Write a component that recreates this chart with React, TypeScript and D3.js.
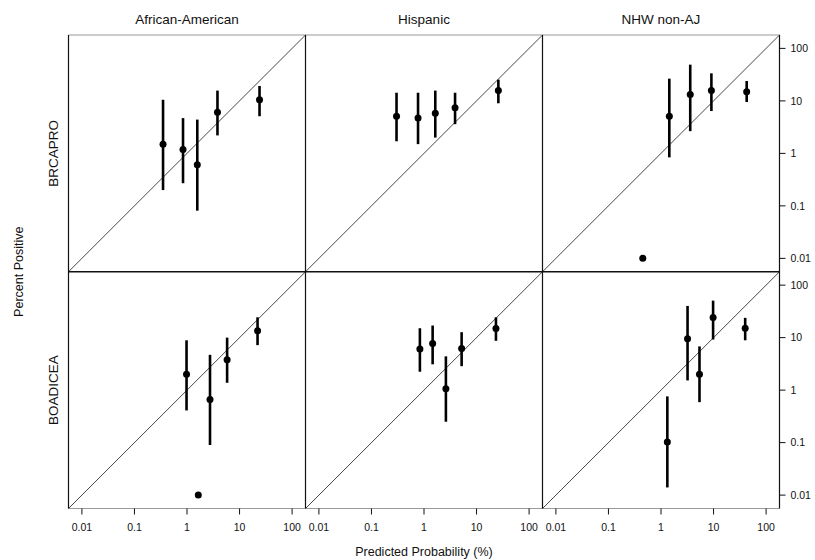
import React from "react";
import * as d3 from "d3";

const races = ["African-American", "Hispanic", "NHW non-AJ"];
const models = ["BRCAPRO", "BOADICEA"];
const tickValues = [0.01, 0.1, 1, 10, 100];
const tickLabels = ["0.01", "0.1", "1", "10", "100"];

// BRCAPRO row
const aaBrcaproPred = [0.35, 0.84, 1.57, 3.8, 24];
const aaBrcaproObs = [1.5, 1.19, 0.61, 6.1, 10.5];
const aaBrcaproLo = [0.2, 0.27, 0.081, 2.2, 5.1];
const aaBrcaproHi = [10.5, 4.7, 4.4, 15.7, 19.2];

const hispBrcaproPred = [0.3, 0.77, 1.64, 3.9, 26];
const hispBrcaproObs = [5.1, 4.7, 5.8, 7.4, 15.7];
const hispBrcaproLo = [1.7, 1.5, 2.0, 3.6, 9.0];
const hispBrcaproHi = [14.3, 14.3, 15.7, 14.3, 25.4];

const nhwBrcaproPred = [0.45, 1.44, 3.6, 9.1, 42.7];
const nhwBrcaproObs = [0.01, 5.1, 13.3, 15.7, 15];
const nhwBrcaproLo = [null, 0.84, 2.65, 6.4, 9.5];
const nhwBrcaproHi = [null, 26.5, 49, 33.5, 23.9];

// BOADICEA row
const aaBoadiceaPred = [0.98, 1.64, 2.74, 5.8, 22];
const aaBoadiceaObs = [2.0, 0.01, 0.66, 3.8, 13.5];
const aaBoadiceaLo = [0.41, null, 0.09, 1.38, 7.2];
const aaBoadiceaHi = [8.9, null, 4.7, 10, 24.4];

const hispBoadiceaPred = [0.835, 1.46, 2.61, 5.2, 23.4];
const hispBoadiceaObs = [6.1, 7.7, 1.06, 6.2, 14.9];
const hispBoadiceaLo = [2.24, 3.1, 0.25, 2.86, 8.7];
const hispBoadiceaHi = [15.1, 17, 4.4, 12.7, 24.4];

const nhwBoadiceaPred = [1.32, 3.2, 5.4, 9.8, 40];
const nhwBoadiceaObs = [0.103, 9.5, 2.0, 24.1, 15.1];
const nhwBoadiceaLo = [0.014, 1.53, 0.59, 9.2, 8.9];
const nhwBoadiceaHi = [0.76, 40.2, 6.8, 50.7, 23.8];

type Panel = { pred: number[]; obs: number[]; lo: (number | null)[]; hi: (number | null)[] };

const panels: Panel[][] = [
  [
    { pred: aaBrcaproPred, obs: aaBrcaproObs, lo: aaBrcaproLo, hi: aaBrcaproHi },
    { pred: hispBrcaproPred, obs: hispBrcaproObs, lo: hispBrcaproLo, hi: hispBrcaproHi },
    { pred: nhwBrcaproPred, obs: nhwBrcaproObs, lo: nhwBrcaproLo, hi: nhwBrcaproHi },
  ],
  [
    { pred: aaBoadiceaPred, obs: aaBoadiceaObs, lo: aaBoadiceaLo, hi: aaBoadiceaHi },
    { pred: hispBoadiceaPred, obs: hispBoadiceaObs, lo: hispBoadiceaLo, hi: hispBoadiceaHi },
    { pred: nhwBoadiceaPred, obs: nhwBoadiceaObs, lo: nhwBoadiceaLo, hi: nhwBoadiceaHi },
  ],
];

const W = 815;
const H = 560;
const left = 68.5;
const top = 35;
const pw = 237;
const ph = 236.75;
const domain: [number, number] = [Math.pow(10, -2.255), Math.pow(10, 2.255)];
const font = "'Liberation Sans', Arial, Helvetica, sans-serif";

export default function App() {
  const x = d3.scaleLog().domain(domain).range([0, pw]);
  const y = d3.scaleLog().domain(domain).range([ph, 0]);
  const bottom = top + 2 * ph;
  const right = left + 3 * pw;

  return (
    <svg
      width={W}
      height={H}
      style={{ position: "absolute", left: 0, top: 0, background: "#fff" }}
      fontFamily={font}
    >
      <rect x={0} y={0} width={W} height={H} fill="#fff" />
      {/* strip titles */}
      {races.map((r, c) => (
        <text
          key={r}
          x={left + c * pw + pw / 2}
          y={24}
          textAnchor="middle"
          fontSize={13.5}
          fill="#111"
        >
          {r}
        </text>
      ))}
      {/* row labels */}
      {models.map((m, r) => (
        <text
          key={m}
          transform={`translate(58,${top + r * ph + ph / 2}) rotate(-90)`}
          textAnchor="middle"
          fontSize={13.5}
          fill="#111"
        >
          {m}
        </text>
      ))}
      <text
        transform={`translate(23,${top + ph}) rotate(-90)`}
        textAnchor="middle"
        fontSize={12.5}
        fill="#111"
      >
        Percent Positive
      </text>
      <text x={left + 1.5 * pw} y={556} textAnchor="middle" fontSize={12.5} fill="#111">
        Predicted Probability (%)
      </text>

      {panels.map((row, r) =>
        row.map((p, c) => {
          const ox = left + c * pw;
          const oy = top + r * ph;
          return (
            <g key={`${r}-${c}`} transform={`translate(${ox},${oy})`}>
              <line
                x1={x(domain[0])}
                y1={y(domain[0])}
                x2={x(domain[1])}
                y2={y(domain[1])}
                stroke="#333"
                strokeWidth={0.9}
              />
              {p.pred.map((v, i) =>
                p.lo[i] != null && p.hi[i] != null ? (
                  <line
                    key={`b${i}`}
                    x1={x(v)}
                    x2={x(v)}
                    y1={y(p.lo[i] as number)}
                    y2={y(p.hi[i] as number)}
                    stroke="#000"
                    strokeWidth={2.6}
                  />
                ) : null
              )}
              {p.pred.map((v, i) => (
                <circle key={`p${i}`} cx={x(v)} cy={y(p.obs[i])} r={3.5} fill="#000" />
              ))}
            </g>
          );
        })
      )}

      {/* panel borders */}
      <line x1={left} x2={right} y1={top} y2={top} stroke="#9a9a9a" strokeWidth={1.2} />
      <line x1={left} x2={right} y1={bottom} y2={bottom} stroke="#9a9a9a" strokeWidth={1.2} />
      <line x1={left} x2={right} y1={top + ph} y2={top + ph} stroke="#111" strokeWidth={1.3} />
      {[0, 1, 2, 3].map((c) => (
        <line
          key={`v${c}`}
          x1={left + c * pw}
          x2={left + c * pw}
          y1={top}
          y2={bottom}
          stroke="#111"
          strokeWidth={1.2}
        />
      ))}

      {/* bottom x axes */}
      {races.map((r, c) => (
        <g key={`xa${c}`} transform={`translate(${left + c * pw},${bottom})`}>
          {tickValues.map((t, i) => (
            <g key={t} transform={`translate(${x(t)},0)`}>
              <line y1={0} y2={6} stroke="#111" strokeWidth={1} />
              <text y={22} textAnchor="middle" fontSize={10.5} fill="#111">
                {tickLabels[i]}
              </text>
            </g>
          ))}
        </g>
      ))}

      {/* right y axes */}
      {models.map((m, r) => (
        <g key={`ya${r}`} transform={`translate(${right},${top + r * ph})`}>
          {tickValues.map((t, i) => (
            <g key={t} transform={`translate(0,${y(t)})`}>
              <line x1={0} x2={6} stroke="#111" strokeWidth={1} />
              <text x={11} dy="0.35em" textAnchor="start" fontSize={10.5} fill="#111">
                {tickLabels[i]}
              </text>
            </g>
          ))}
        </g>
      ))}
    </svg>
  );
}
